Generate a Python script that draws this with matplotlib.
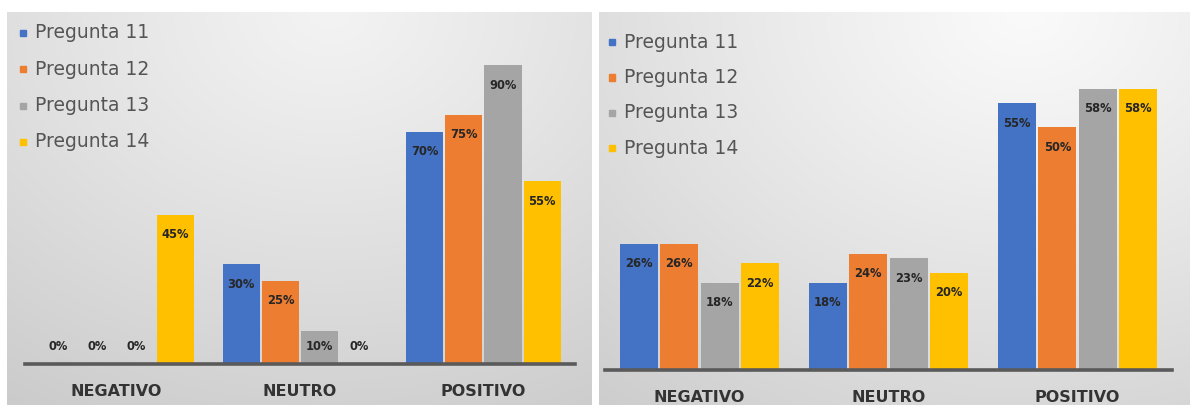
import numpy as np
import matplotlib.pyplot as plt
from matplotlib.patches import Rectangle
from matplotlib.transforms import blended_transform_factory

# Categorías y series
categorias = ["NEGATIVO", "NEUTRO", "POSITIVO"]
preguntas = ["Pregunta 11", "Pregunta 12", "Pregunta 13", "Pregunta 14"]
colores = ["#4472C4", "#ED7D31", "#A5A5A5", "#FFC000"]

# Gráfico izquierdo (% por categoría)
izq_p11 = [0, 30, 70]
izq_p12 = [0, 25, 75]
izq_p13 = [0, 10, 90]
izq_p14 = [45, 0, 55]

# Gráfico derecho (% por categoría)
der_p11 = [26, 18, 55]
der_p12 = [26, 24, 50]
der_p13 = [18, 23, 58]
der_p14 = [22, 20, 58]

W, H = 1190, 405
fig = plt.figure(figsize=(W / 100, H / 100), dpi=100)
fig.patch.set_facecolor("white")


def caja(x0, y0, x1, y1):
    """Rectángulo en píxeles (origen arriba a la izquierda) -> fracción de figura."""
    return [x0 / W, 1 - y1 / H, (x1 - x0) / W, (y1 - y0) / H]


def fondo(rect, cx, claro, oscuro):
    bg = fig.add_axes(caja(*rect), zorder=0)
    w = int(rect[2] - rect[0])
    h = int(rect[3] - rect[1])
    xx, yy = np.meshgrid(np.arange(w), np.arange(h))
    d = np.sqrt((xx - cx * w) ** 2 + (yy * 1.3) ** 2)
    d = np.clip(d / d.max(), 0, 1)
    g = claro - (claro - oscuro) * d ** 1.1
    img = np.dstack([g, g, g]) / 255.0
    bg.imshow(img, aspect="auto", interpolation="bilinear")
    bg.set_axis_off()


fondo((7, 12, 592, 405), 0.55, 243, 203)
fondo((599, 12, 1190, 405), 0.72, 250, 205)


def panel(rect_px, series, ymax, leyenda_xy):
    ax = fig.add_axes(caja(*rect_px), zorder=2)
    ax.patch.set_alpha(0)
    ax.set_xlim(-0.5, 2.5)
    ax.set_ylim(0, ymax)
    ax.set_axis_off()

    alto_px = rect_px[3] - rect_px[1]
    ppu = alto_px / ymax
    x = np.arange(len(categorias))
    paso, ancho = 0.214, 0.203
    for i, (vals, col) in enumerate(zip(series, colores)):
        xs = x + (i - 1.5) * paso
        ax.bar(xs, vals, width=ancho, color=col, zorder=2)
        for xi, v in zip(xs, vals):
            yl = max(v - 20 / ppu, 17 / ppu)
            ax.text(xi, yl, f"{v}%", ha="center", va="center",
                    fontsize=8.3, fontweight="bold", color="#262626", zorder=4)

    ax.axhline(0, color="#5a5a5a", lw=2.6, zorder=3, clip_on=False)

    tr = blended_transform_factory(ax.transData, fig.transFigure)
    for xi, cat in zip(x, categorias):
        ax.text(xi, 1 - (rect_px[3] + 28) / H, cat, transform=tr,
                ha="center", va="center", fontsize=11.5, fontweight="bold",
                color="#333333")

    lx, ly, dy = leyenda_xy
    for k, (nom, col) in enumerate(zip(preguntas, colores)):
        yk = ly + k * dy
        fig.patches.append(Rectangle(((lx - 3) / W, 1 - (yk + 3) / H), 6 / W, 6 / H,
                                     transform=fig.transFigure, color=col,
                                     zorder=5))
        fig.text((lx + 12) / W, 1 - yk / H, nom, ha="left", va="center",
                 fontsize=13.5, color="#555555", zorder=5)
    return ax


panel((25, 32, 575, 364), [izq_p11, izq_p12, izq_p13, izq_p14], 100, (23, 33, 36.3))
panel((605, 79, 1172, 370), [der_p11, der_p12, der_p13, der_p14], 60, (612, 42, 35.5))

fig.savefig("out.png", dpi=100)
